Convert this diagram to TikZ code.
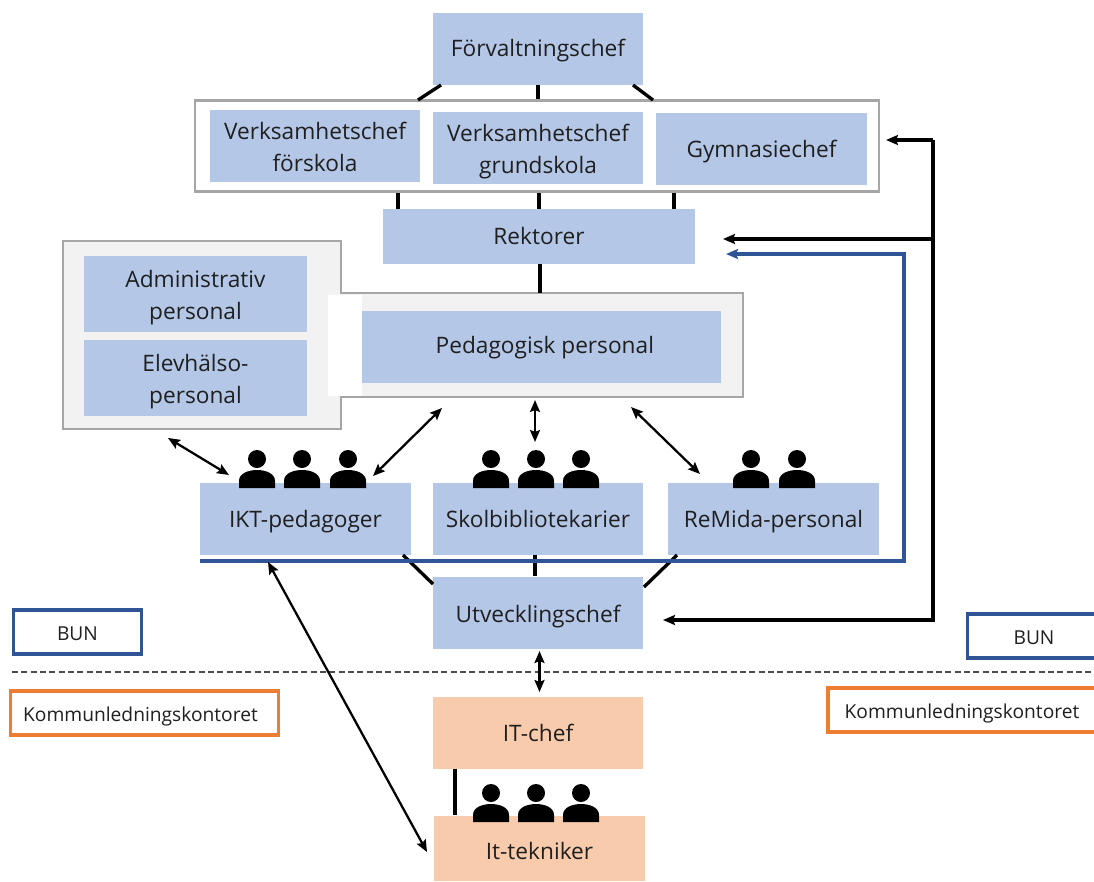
\documentclass[tikz,border=0pt]{standalone}
\usepackage{fontspec}
\setmainfont{Open Sans}
\usetikzlibrary{arrows.meta}
\definecolor{boxblue}{HTML}{B4C7E7}
\definecolor{boxorange}{HTML}{F8CBAD}
\definecolor{linegrey}{HTML}{A6A6A6}
\definecolor{fillgrey}{HTML}{F2F2F2}
\definecolor{lineblue}{HTML}{2F5597}
\definecolor{lineorange}{HTML}{ED7D31}
\definecolor{textdark}{HTML}{1F1F1F}
\newcommand{\boxstrut}{\rule[-6pt]{0pt}{24pt}}
\tikzset{
  person/.pic={
    \fill[black] (0,-29) circle[radius=9];
    \fill[black] (-18,0) -- (-18,-7) .. controls (-18,-15) and (-8,-18) .. (0,-18)
      .. controls (8,-18) and (18,-15) .. (18,-7) -- (18,0) -- cycle;
  }
}
\begin{document}
\begin{tikzpicture}[x=0.75pt,y=-0.75pt,>={Stealth[length=9pt,width=7.5pt,inset=1.5pt]},node distance=63pt,semithick]
  \tikzstyle{every node}=[font=\fontsize{17}{24}\selectfont,text=textdark,inner sep=0pt,align=center,
    execute at begin node=\boxstrut,execute at end node=\boxstrut]
  \tikzstyle{bluebox}=[fill=boxblue,minimum width=158pt,minimum height=54pt]
  \tikzstyle{twolines}=[text height=43.5pt,text depth=6pt]
  \tikzstyle{orangebox}=[fill=boxorange,minimum width=158pt,minimum height=54pt]
  \tikzstyle{bluetag}=[draw=lineblue,line width=2.6pt,fill=white,font=\fontsize{14.4}{18}\selectfont]
  \tikzstyle{orangetag}=[draw=lineorange,line width=2.6pt,fill=white,font=\fontsize{14.4}{18}\selectfont]
  \tikzstyle{link}=[draw=black,line width=2.5pt]
  \tikzstyle{feedback}=[draw=black,line width=2.6pt,->]
  \tikzstyle{twoway}=[draw=black,line width=1.7pt,<->]

  \useasboundingbox (0,0) rectangle (1094,881);

  % frames
  \node[draw=linegrey,line width=2.2pt,fill=white,minimum width=513pt,minimum height=68pt] (ledning) at (537,146) {};
  \draw[draw=linegrey,line width=2.2pt,fill=fillgrey] (63,241) -- (341,241) -- (341,293) -- (743,293)
    -- (743,397) -- (341,397) -- (341,429) -- (63,429) -- cycle;
  \fill[white] (328,295) rectangle (362,396);

  \node[bluebox] (chef) at (538,49) {Förvaltningschef};
  \node[bluebox,twolines] (forskola) at (315,146) {Verksamhetschef\\förskola};
  \node[bluebox,twolines] (grundskola) at (538,148) {Verksamhetschef\\grundskola};
  \node[bluebox] (gymnasie) at (761.5,149) {Gymnasiechef};
  \node[bluebox,minimum width=234pt,minimum height=41pt] (rektorer) at (539,236.5) {Rektorer};
  \node[bluebox,twolines,minimum width=167pt,minimum height=57pt] (admin) at (195.5,294) {Administrativ\\personal};
  \node[bluebox,twolines,minimum width=167pt,minimum height=57pt] (elev) [below of=admin] {Elevhälso-\\personal};
  \node[bluebox,minimum width=269pt] (pedagog) at (541.5,347) {\hspace*{5pt}\raisebox{1.5pt}{Pedagogisk personal}};
  \node[bluebox] (ikt) at (305.5,519) {IKT-pedagoger};
  \node[bluebox] (skol) at (538,519) {Skolbibliotekarier};
  \node[bluebox] (remida) at (773.5,519) {ReMida-personal};
  \node[bluebox] (utv) at (538,612.5) {\raisebox{-1.5pt}{Utvecklingschef}};
  \node[orangebox] (itchef) at (538,733) {IT-chef};
  \node[orangebox,minimum height=49pt] (tekniker) at (539.5,848.5) {\raisebox{-2pt}{It-tekniker}};

  \node[bluetag,minimum width=96pt,minimum height=33pt] (bunL) at (77.5,632) {BUN};
  \node[bluetag,minimum width=100pt,minimum height=33pt] (bunR) at (1034,636) {BUN};
  \node[orangetag,minimum width=201pt,minimum height=33pt] (kommL) at (144.5,713) {Kommunledningskontoret\hspace{6pt}};
  \node[orangetag,minimum width=201pt,minimum height=33pt] (kommR) at (962,710) {Kommunledningskontoret};

  \pic at (257,488) {person};
  \pic at (302,488) {person};
  \pic at (348,488) {person};
  \pic at (491,488) {person};
  \pic at (536,488) {person};
  \pic at (581,488) {person};
  \pic at (751,488) {person};
  \pic at (797,488) {person};
  \pic at (491,822) {person};
  \pic at (536,822) {person};
  \pic at (581,822) {person};

  \coordinate (chefL) at (441,85);
  \coordinate (chefR) at (633,85);
  \coordinate (ledL) at (418,100);
  \coordinate (ledR) at (653,100);
  \coordinate (rekL) at (398,209);
  \coordinate (rekR) at (674,209);
  \coordinate (pedtop) at (540,293);
  \coordinate (iktlink) at (403,555);
  \coordinate (remlink) at (677,555);
  \coordinate (utvL) at (433,584);
  \coordinate (utvR) at (644,587);
  \coordinate (skollink) at (535,555);
  \coordinate (itlink) at (455,769);

  \path[link] (chefL) -- (ledL);
  \path[link] (chef.south) -- (chef.south |- ledning.north);
  \path[link] (chefR) -- (ledR);
  \path[link] (rekL) -- (rekL |- ledning.south);
  \path[link] (rektorer.north) -- (rektorer.north |- ledning.south);
  \path[link] (rekR) -- (rekR |- ledning.south);
  \path[link] (pedtop) -- (pedtop |- rektorer.south);
  \path[link] (iktlink) -- (utvL);
  \path[link] (remlink) -- (utvR);
  \path[link] (skollink) -- (skollink |- utv.north);
  \path[link] (itlink) -- (itlink |- tekniker.north);

  % right side
  \coordinate (bus1) at (933,140);
  \coordinate (bus2) at (933,239);
  \coordinate (bus3) at (933,620);
  \coordinate (toledning) at (886,140);
  \coordinate (torektor) at (723,239);
  \coordinate (toutv) at (663,620);
  \path[feedback] (bus1) -- (toledning);
  \path[feedback] (bus2) -- (torektor);
  \path[feedback,line join=miter] (bus1) -- (bus3) -- (toutv);

  \coordinate (blue1) at (200,561);
  \coordinate (blue2) at (904,561);
  \coordinate (blue3) at (904,254);
  \coordinate (blue4) at (726,254);
  \draw[lineblue,line width=2.6pt,->] (blue1) -- (blue2) -- (blue3) -- (blue4);

  \coordinate (a1) at (168,438);
  \coordinate (a2) at (229,475);
  \coordinate (a3) at (373,476);
  \coordinate (a4) at (442,408);
  \coordinate (a5) at (535,400);
  \coordinate (a6) at (535,442);
  \coordinate (a7) at (631,407);
  \coordinate (a8) at (700,474);
  \coordinate (a9) at (268,562);
  \coordinate (a10) at (427,852);
  \coordinate (a11) at (539.5,651);
  \coordinate (a12) at (539.5,692);
  \coordinate (dashL) at (12,672);
  \coordinate (dashR) at (1094,672);
  \path[draw=black!70,line width=0.8pt,dash pattern=on 4.5pt off 2.5pt] (dashL) -- (dashR);
  \path[twoway] (a1) -- (a2);
  \path[twoway] (a3) -- (a4);
  \path[twoway] (a5) -- (a6);
  \path[twoway] (a7) -- (a8);
  \path[twoway] (a9) -- (a10);
  \path[twoway] (a11) -- (a12);
\end{tikzpicture}
\end{document}
